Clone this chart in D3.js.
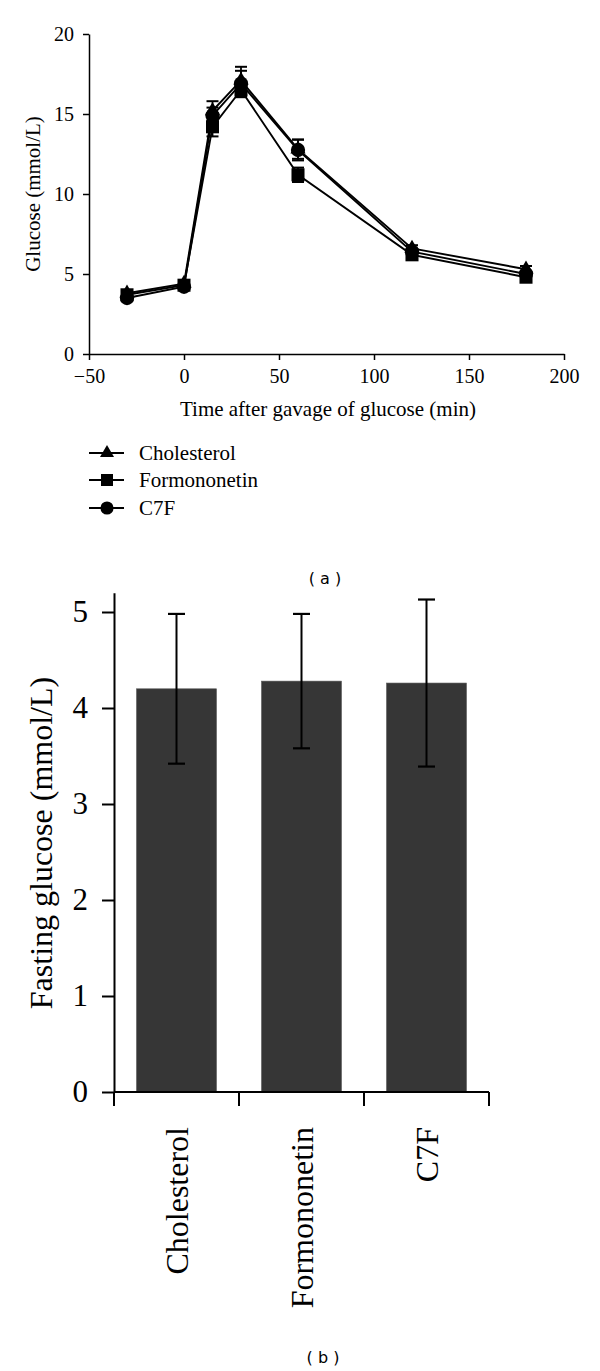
<!DOCTYPE html>
<html>
<head>
<meta charset="utf-8">
<script src="https://cdn.jsdelivr.net/npm/d3@7"></script>
<style>
  html, body { margin: 0; padding: 0; background: #fff; }
  svg { display: block; }
</style>
</head>
<body>
<script>
// ---------- Data: panel (a) ----------
const times = [-30, 0, 15, 30, 60, 120, 180];
const seriesNames = ["Cholesterol", "Formononetin", "C7F"];
const cholesterolValues = [3.8, 4.4, 15.2, 17.1, 12.8, 6.6, 5.3];
const formononetinValues = [3.7, 4.3, 14.2, 16.5, 11.2, 6.2, 4.8];
const c7fValues = [3.5, 4.2, 14.9, 16.9, 12.75, 6.4, 5.0];
const cholesterolErrors = [0.2, 0.2, 0.6, 0.85, 0.6, 0.2, 0.2];
const formononetinErrors = [0.2, 0.2, 0.6, 0.45, 0.45, 0.2, 0.2];
const c7fErrors = [0.2, 0.2, 0.5, 0.8, 0.65, 0.2, 0.2];
const xTicksA = [-50, 0, 50, 100, 150, 200];
const yTicksA = [0, 5, 10, 15, 20];

// ---------- Data: panel (b) ----------
const categories = ["Cholesterol", "Formononetin", "C7F"];
const fastingMeans = [4.20, 4.28, 4.26];
const fastingErrors = [0.78, 0.70, 0.87];
const yTicksB = [0, 1, 2, 3, 4, 5];

const W = 600, H = 1371;
const svg = d3.select("body").append("svg").attr("width", W).attr("height", H);
svg.append("rect").attr("width", W).attr("height", H).attr("fill", "#fff");

const serif = "'Liberation Serif', 'Times New Roman', serif";
const sans = "'DejaVu Sans', Verdana, sans-serif";

// ================= Panel (a) =================
const xA = d3.scaleLinear().domain([-50, 200]).range([89, 564]);
const yA = d3.scaleLinear().domain([0, 20]).range([354, 34]);
const gA = svg.append("g");

const axA_x = gA.append("g").attr("transform", `translate(0,${yA(0)})`)
  .call(d3.axisBottom(xA).tickValues(xTicksA).tickFormat(d => d < 0 ? "\u2212" + Math.abs(d) : String(d))
    .tickSize(6).tickSizeOuter(0).tickPadding(9));
const axA_y = gA.append("g").attr("transform", `translate(${xA(-50)},0)`)
  .call(d3.axisLeft(yA).tickValues(yTicksA).tickFormat(d3.format("d")).tickSize(6).tickSizeOuter(0).tickPadding(9));
[axA_x, axA_y].forEach(a => {
  a.attr("font-family", serif).attr("font-size", 20);
  a.selectAll("path, line").attr("stroke", "#000").attr("stroke-width", 1.5);
  a.selectAll("text").attr("font-family", serif).attr("font-size", 20).attr("fill", "#000");
});

gA.append("text").attr("x", 328).attr("y", 416).attr("text-anchor", "middle")
  .attr("font-family", serif).attr("font-size", 21).text("Time after gavage of glucose (min)");
gA.append("text").attr("transform", `translate(33,194) rotate(-90)`).attr("text-anchor", "middle")
  .attr("dy", "0.35em").attr("font-family", serif).attr("font-size", 21).text("Glucose (mmol/L)");

const seriesA = [
  { name: seriesNames[0], values: cholesterolValues, errors: cholesterolErrors, symbol: d3.symbolTriangle, size: 100 },
  { name: seriesNames[1], values: formononetinValues, errors: formononetinErrors, symbol: d3.symbolSquare, size: 170 },
  { name: seriesNames[2], values: c7fValues, errors: c7fErrors, symbol: d3.symbolCircle, size: 160 }
];

const line = d3.line().x(d => xA(d.t)).y(d => yA(d.v));
seriesA.forEach(s => {
  const pts = times.map((t, i) => ({ t, v: s.values[i], e: s.errors[i] }));
  gA.append("path").datum(pts).attr("d", line).attr("fill", "none")
    .attr("stroke", "#000").attr("stroke-width", 1.9);
});
seriesA.forEach(s => {
  const pts = times.map((t, i) => ({ t, v: s.values[i], e: s.errors[i] }));
  const eb = gA.append("g");
  pts.forEach(p => {
    const x = xA(p.t);
    eb.append("line").attr("x1", x).attr("x2", x).attr("y1", yA(p.v - p.e)).attr("y2", yA(p.v + p.e))
      .attr("stroke", "#000").attr("stroke-width", 1.8);
    [p.v - p.e, p.v + p.e].forEach(v => {
      eb.append("line").attr("x1", x - 6).attr("x2", x + 6).attr("y1", yA(v)).attr("y2", yA(v))
        .attr("stroke", "#000").attr("stroke-width", 2);
    });
  });
  gA.append("g").selectAll("path").data(pts).join("path")
    .attr("transform", d => `translate(${xA(d.t)},${yA(d.v)})`)
    .attr("d", d3.symbol().type(s.symbol).size(s.size)).attr("fill", "#000");
});

// Legend
const legY = [453, 480, 508];
seriesA.forEach((s, i) => {
  const lg = gA.append("g").attr("transform", `translate(0,${legY[i]})`);
  lg.append("line").attr("x1", 89).attr("x2", 124).attr("y1", 0).attr("y2", 0)
    .attr("stroke", "#000").attr("stroke-width", 1.8);
  lg.append("path").attr("transform", "translate(107,0)")
    .attr("d", d3.symbol().type(s.symbol).size(s.size * 0.85)).attr("fill", "#000");
  lg.append("text").attr("x", 139).attr("y", 0).attr("dy", "0.33em")
    .attr("font-family", serif).attr("font-size", 21).text(s.name);
});

svg.append("text").attr("x", 325).attr("y", 578).attr("dy", "0.35em").attr("text-anchor", "middle")
  .attr("font-family", sans).attr("font-size", 16).attr("xml:space", "preserve").text("( a )");

// ================= Panel (b) =================
const xB = d3.scaleBand().domain(categories).range([114, 489]).paddingInner(0.36).paddingOuter(0.18);
const yB = d3.scaleLinear().domain([0, 5.2]).range([1092, 592.8]);
const gB = svg.append("g");

gB.selectAll("rect.bar").data(categories).join("rect").attr("class", "bar")
  .attr("x", d => xB(d)).attr("width", xB.bandwidth())
  .attr("y", (d, i) => yB(fastingMeans[i])).attr("height", (d, i) => yB(0) - yB(fastingMeans[i]))
  .attr("fill", "#363636").attr("stroke", "#5a5a5a").attr("stroke-width", 0.6);

categories.forEach((c, i) => {
  const cx = xB(c) + xB.bandwidth() / 2;
  const lo = fastingMeans[i] - fastingErrors[i], hi = fastingMeans[i] + fastingErrors[i];
  gB.append("line").attr("x1", cx).attr("x2", cx).attr("y1", yB(lo)).attr("y2", yB(hi))
    .attr("stroke", "#000").attr("stroke-width", 2);
  [lo, hi].forEach(v => gB.append("line").attr("x1", cx - 8.5).attr("x2", cx + 8.5)
    .attr("y1", yB(v)).attr("y2", yB(v)).attr("stroke", "#000").attr("stroke-width", 2.2));
});

const axB_y = gB.append("g").attr("transform", `translate(114,0)`)
  .call(d3.axisLeft(yB).tickValues(yTicksB).tickFormat(d3.format("d")).tickSize(12).tickSizeOuter(0).tickPadding(14));
axB_y.attr("font-family", serif).attr("font-size", 31);
axB_y.selectAll("path, line").attr("stroke", "#000").attr("stroke-width", 2);
axB_y.selectAll("text").attr("font-family", serif).attr("font-size", 31).attr("fill", "#000");

// x axis with ticks at band boundaries
const xBoundary = d3.scaleLinear().domain([0, categories.length]).range([114, 489]);
gB.append("line").attr("x1", 114).attr("x2", 489).attr("y1", yB(0)).attr("y2", yB(0))
  .attr("stroke", "#000").attr("stroke-width", 2.2);
d3.range(categories.length + 1).forEach(k => {
  gB.append("line").attr("x1", xBoundary(k)).attr("x2", xBoundary(k))
    .attr("y1", yB(0)).attr("y2", yB(0) + 14).attr("stroke", "#000").attr("stroke-width", 2);
});
categories.forEach(c => {
  const cx = xB(c) + xB.bandwidth() / 2;
  gB.append("text").attr("transform", `translate(${cx},1127) rotate(-90)`)
    .attr("text-anchor", "end").attr("dy", "0.35em")
    .attr("font-family", serif).attr("font-size", 32).text(c);
});

gB.append("text").attr("transform", `translate(41,843) rotate(-90)`).attr("text-anchor", "middle")
  .attr("dy", "0.35em").attr("font-family", serif).attr("font-size", 32).text("Fasting glucose (mmol/L)");

svg.append("text").attr("x", 323).attr("y", 1357).attr("dy", "0.35em").attr("text-anchor", "middle")
  .attr("font-family", sans).attr("font-size", 16).attr("xml:space", "preserve").text("( b )");
</script>
</body>
</html>
